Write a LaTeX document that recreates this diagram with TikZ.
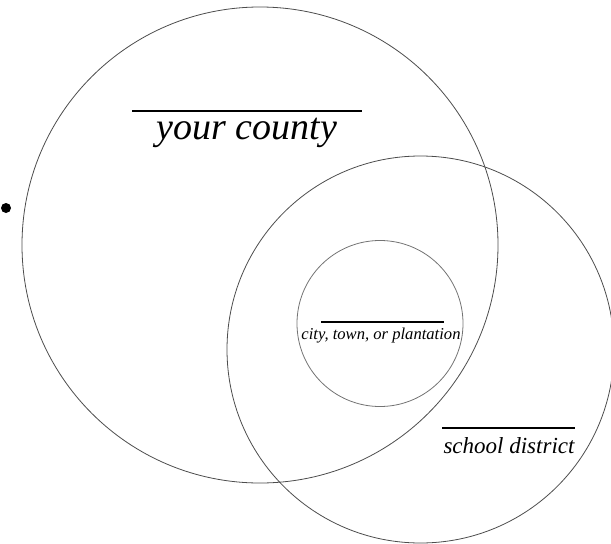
\documentclass[tikz,border=0pt]{standalone}
\usepackage{fontspec}
\setmainfont{Liberation Serif}
\begin{document}
\begin{tikzpicture}[x=1pt,y=-1pt,
  region/.style={draw=black!70, line width=0.8pt, circle, inner sep=0pt, outer sep=0pt},
  inner region/.style={draw=black!55, line width=0.8pt, circle, inner sep=0pt, outer sep=0pt},
  lbl/.style={anchor=base, inner sep=0pt, font=\itshape},
  rulebar/.style={draw=black, line width=1.6pt}]
\useasboundingbox (0,0) rectangle (611,544);
\clip (0,0) rectangle (611,544);
\node[region, minimum size=476pt] (county) at (260,245) {};
\node[region, minimum size=387pt] (district) at (420.5,349.5) {};
\node[inner region, minimum size=166pt] (town) at (380,323.5) {};
\fill (6,208) circle (5pt) coordinate (dot);
% labels
\node[lbl, font=\itshape\fontsize{38}{40}\selectfont] (countylbl) at (247,139) {your county};
\coordinate (cr1) at (132,111); \coordinate (cr2) at (362,111);
\draw[rulebar] (cr1) -- (cr2);
\node[lbl, font=\itshape\fontsize{16.6}{18}\selectfont] (townlbl) at (381,339) {city, town, or plantation};
\coordinate (tr1) at (321,322); \coordinate (tr2) at (444,322);
\draw[rulebar, line width=1.1pt] (tr1) -- (tr2);
\node[lbl, font=\itshape\fontsize{23}{25}\selectfont] (districtlbl) at (509,453) {school district};
\coordinate (dr1) at (442,428); \coordinate (dr2) at (575,428);
\draw[rulebar, line width=1.3pt] (dr1) -- (dr2);
\end{tikzpicture}
\end{document}
